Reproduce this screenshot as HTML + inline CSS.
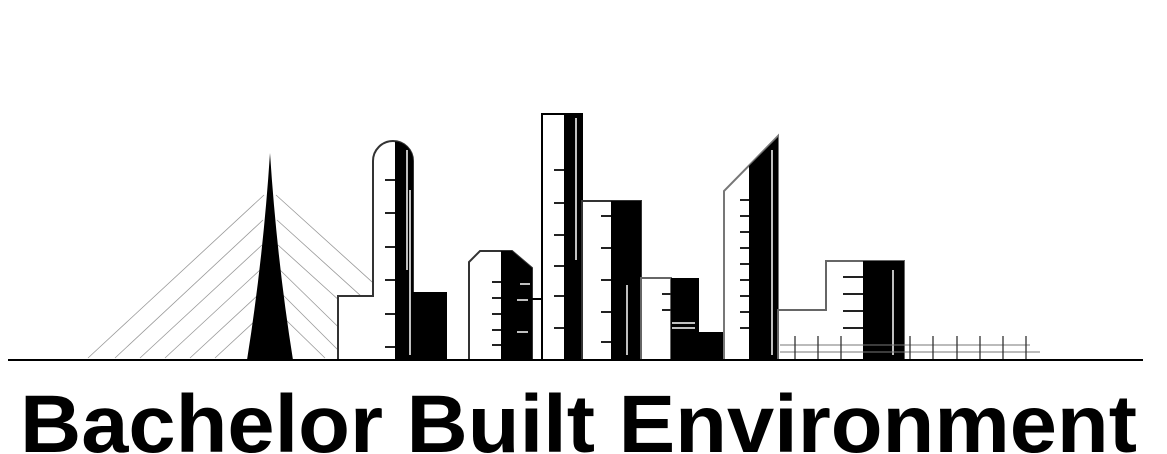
<!DOCTYPE html>
<html><head><meta charset="utf-8"><style>
html,body{margin:0;padding:0;background:#fff;width:1167px;height:454px;overflow:hidden}
</style></head><body>
<svg width="1167" height="454" viewBox="0 0 1167 454" xmlns="http://www.w3.org/2000/svg">
<!-- cables -->
<g stroke="#999" stroke-width="0.8" fill="none">
<line x1="264" y1="195" x2="88" y2="358"/>
<line x1="263" y1="220" x2="115" y2="358"/>
<line x1="262" y1="245" x2="140" y2="358"/>
<line x1="260" y1="270" x2="165" y2="358"/>
<line x1="258" y1="295" x2="190" y2="358"/>
<line x1="256" y1="320" x2="215" y2="358"/>
<line x1="276" y1="195" x2="392" y2="300"/>
<line x1="277" y1="220" x2="393" y2="325"/>
<line x1="278" y1="245" x2="394" y2="350"/>
<line x1="280" y1="270" x2="370" y2="358"/>
<line x1="283" y1="295" x2="346" y2="358"/>
<line x1="286" y1="320" x2="325" y2="358"/>
</g>
<!-- pylon -->
<path d="M270,153 Q263,260 247,360 L293,360 Q277,260 270,153 Z" fill="#000"/>
<!-- building 1 -->
<path d="M338,360 V296 H373 V161 A20,20 0 0 1 413,161 V360" fill="#fff" stroke="#333" stroke-width="2"/>
<path d="M395,141.5 A19,19 0 0 1 413,161 V292 H447 V360 H395 Z" fill="#000"/>
<!-- building 2 -->
<path d="M469,360 V262 L480,251 H512 L532,268 V360" fill="#fff" stroke="#333" stroke-width="2"/>
<path d="M501,251 H512 L532,268 V360 H501 Z" fill="#000"/>
<line x1="532" y1="299" x2="542" y2="299" stroke="#000" stroke-width="2"/>
<rect x="542" y="114" width="40" height="246" fill="#fff" stroke="#000" stroke-width="2"/>
<rect x="564" y="114" width="18" height="246" fill="#000"/>
<rect x="582" y="201" width="59" height="159" fill="#fff" stroke="#333" stroke-width="2"/>
<rect x="611" y="201" width="30" height="159" fill="#000"/>
<rect x="641" y="278" width="30" height="82" fill="#fff" stroke="#666" stroke-width="2"/>
<rect x="671" y="278" width="28" height="82" fill="#000"/>
<rect x="699" y="332" width="24" height="28" fill="#000"/>
<!-- slanted tower -->
<path d="M724,360 V191 L778,136 V360 Z" fill="#fff" stroke="#777" stroke-width="2"/>
<path d="M749,166 L778,137 V360 H749 Z" fill="#000"/>
<!-- right block -->
<path d="M778,360 V310 H826 V261 H904 V360" fill="#fff" stroke="#666" stroke-width="2"/>
<rect x="863" y="261" width="41" height="99" fill="#000"/>
<!-- white inner highlights -->
<g stroke="#fff" stroke-width="1.5" fill="none">
<path d="M407,150 V270"/><path d="M410,190 V355"/>
<path d="M576,118 V260"/><path d="M627,285 V355"/><path d="M893,270 V355"/><path d="M772,150 V355"/>
<line x1="520" y1="284" x2="530" y2="284"/><line x1="517" y1="300" x2="528" y2="300"/><line x1="517" y1="332" x2="528" y2="332"/>
<line x1="672" y1="323" x2="695" y2="323"/><line x1="672" y1="328" x2="695" y2="328"/>
</g>
<!-- ticks -->
<g stroke="#222" stroke-width="2">
<path d="M385,180h10M385,213h10M385,247h10M385,280h10M385,314h10M385,347h10"/>
<path d="M554,170h10M554,203h10M554,235h10M554,266h10M554,296h10M554,328h10"/>
<path d="M601,216h10M601,248h10M601,280h10M601,312h10M601,342h10"/>
<path d="M492,282h9M492,298h9M492,314h9M492,330h9M492,345h9"/>
<path d="M662,294h9M662,310h9"/>
<path d="M740,200h9M740,216h9M740,232h9M740,248h9M740,264h9M740,280h9M740,296h9M740,312h9M740,328h9"/>
<path d="M843,277h20M843,294h20M843,311h20M843,328h20"/>
</g>
<!-- fence -->
<g stroke="#777" stroke-width="1">
<line x1="780" y1="345" x2="1030" y2="345"/><line x1="780" y1="352" x2="1040" y2="352"/>
</g>
<g stroke="#333" stroke-width="1.3">
<path d="M795,336V360M818,336V360M841,336V360M910,336V360M933,336V360M957,336V360M980,336V360M1003,336V360M1026,336V360"/>
</g>
<!-- ground -->
<line x1="8" y1="360" x2="1143" y2="360" stroke="#000" stroke-width="2"/>
<text x="20" y="452" font-family="Liberation Sans, sans-serif" font-weight="bold" font-size="82" textLength="1117" lengthAdjust="spacingAndGlyphs" fill="#000">Bachelor Built Environment</text>
</svg>
</body></html>
